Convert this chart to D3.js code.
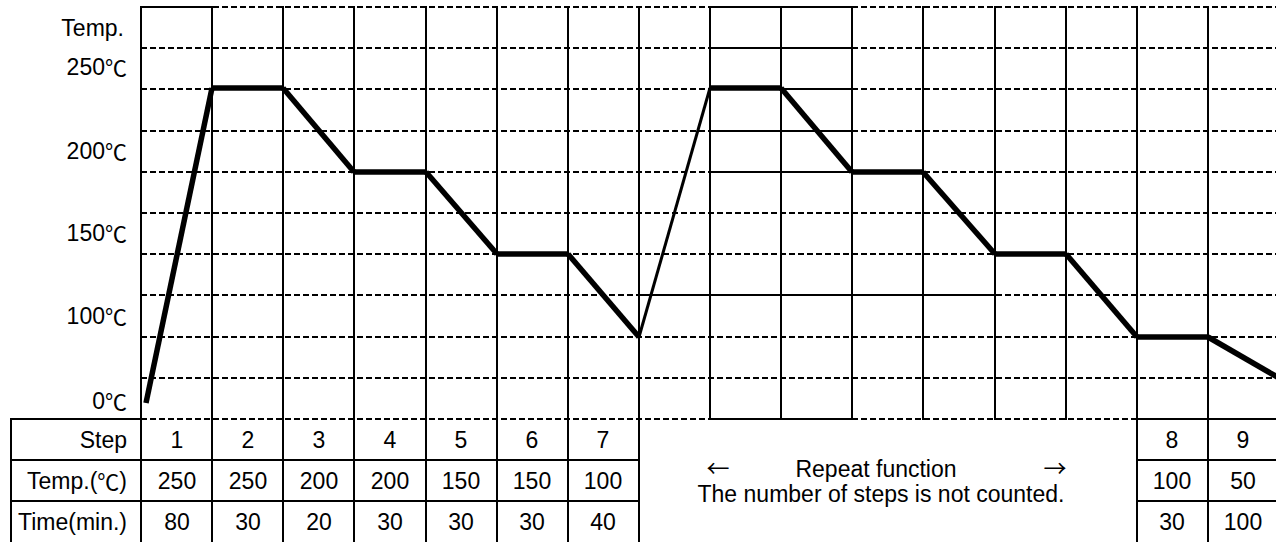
<!DOCTYPE html>
<meta charset="utf-8">
<style>
body { margin: 0; background: #fff; }
text { font-family: "Liberation Sans", Arial, sans-serif; font-size: 23px; fill: #000; }
.grid { stroke: #000; stroke-width: 2; fill: none; shape-rendering: crispEdges; }
.dash { stroke-dasharray: 6,3; }
.profile { stroke: #000; fill: none; }
.cjk { font-family: "Noto Sans CJK JP", sans-serif; }
tspan.cjk { font-size: 22px; baseline-shift: 1.5px; }
</style>
<body>
<svg id="chart" width="1276" height="542"></svg>
<script src="https://d3js.org/d3.v7.min.js"></script>
<script>
var stepNames = ["1", "2", "3", "4", "5", "6", "7"];
var stepTemps = [250, 250, 200, 200, 150, 150, 100];
var stepTimes = [80, 30, 20, 30, 30, 30, 40];
var tailNames = ["8", "9"];
var tailTemps = [100, 50];
var tailTimes = [30, 100];
var yTicks = [250, 200, 150, 100, 0];
var yTickLabels = ["250℃", "200℃", "150℃", "100℃", "0℃"];
var rowLabels = ["Step", "Temp.(℃)", "Time(min.)"];
var repeatLines = ["Repeat function", "The number of steps is not counted."];

// profile: start at 0℃, steps 1-7, the repeated 1-7, then steps 8 and 9
var profile = [0].concat(stepTemps, stepTemps, tailTemps);

var svg = d3.select("#chart");
var nCols = 16, nRows = 10, rowH = 41.2;
var x = d3.scaleLinear().domain([0, nCols]).rangeRound([141, 1279]);
var row = d3.scaleLinear().domain([0, 1]).rangeRound([7, 7 + rowH]);
// the temperature axis is not linear: 50℃ per two rows above 100, compressed below
var y = d3.scaleLinear()
    .domain([0, 50, 100, 150, 200, 250])
    .range([row(9.6), row(9), row(8), row(6), row(4), row(2) - 1]);

// put the ℃ sign in a CJK font, like the original
function label(sel, s) {
  s.split(/(℃)/).filter(p => p).forEach(function(p) {
    sel.append("tspan").attr("class", p === "℃" ? "cjk" : null).text(p);
  });
}

// horizontal grid: dashed everywhere, solid stretches drawn on top
var solid = {0: [[0, 1], [8, 10]], 1: [[8, 10]], 2: [[8, 10]], 3: [[8, 10]], 4: [[8, 10]],
             7: [[7, 12]], 10: [[8, 10], [14, 16]]};
d3.range(nRows + 1).forEach(function(k) {
  svg.append("line").attr("class", "grid dash")
      .attr("x1", x(0)).attr("x2", x(nCols))
      .attr("y1", row(k)).attr("y2", row(k));
  (solid[k] || []).forEach(function(s) {
    svg.append("line").attr("class", "grid")
        .attr("x1", x(s[0])).attr("x2", x(s[1]))
        .attr("y1", row(k)).attr("y2", row(k));
  });
});

// vertical grid
svg.selectAll(".vline").data(d3.range(nCols + 1))
  .enter().append("line").attr("class", "grid")
    .attr("x1", d => x(d)).attr("x2", d => x(d))
    .attr("y1", row(0) - 1).attr("y2", row(nRows) + 1);

// table
var tableLeft = 11;
var tableCols = d3.range(0, stepNames.length + 1).concat([14, 15, 16]);
svg.selectAll(".tv").data(tableCols)
  .enter().append("line").attr("class", "grid")
    .attr("x1", d => x(d)).attr("x2", d => x(d))
    .attr("y1", row(nRows)).attr("y2", row(nRows + 3));
svg.append("line").attr("class", "grid")
    .attr("x1", tableLeft).attr("x2", tableLeft)
    .attr("y1", row(nRows) - 1).attr("y2", row(nRows + 3));
svg.append("line").attr("class", "grid")
    .attr("x1", tableLeft).attr("x2", x(0))
    .attr("y1", row(nRows)).attr("y2", row(nRows));
[1, 2, 3].forEach(function(r) {
  svg.append("line").attr("class", "grid")
      .attr("x1", tableLeft).attr("x2", x(7))
      .attr("y1", row(nRows + r)).attr("y2", row(nRows + r));
  svg.append("line").attr("class", "grid")
      .attr("x1", x(14)).attr("x2", x(16))
      .attr("y1", row(nRows + r)).attr("y2", row(nRows + r));
});

// temperature profile
var segs = d3.pairs(profile.map((t, i) => ({slot: i === 0 ? 0.07 : i, temp: t})));
svg.selectAll(".seg").data(segs)
  .enter().append("line").attr("class", "profile")
    .attr("x1", d => x(d[0].slot)).attr("y1", d => y(d[0].temp))
    .attr("x2", d => x(d[1].slot)).attr("y2", d => y(d[1].temp))
    .attr("stroke-width", d => (d[0].slot === 7) ? 3 : 5.5)
    .attr("stroke-linecap", "butt");

// y labels
svg.append("text").attr("x", 124).attr("y", row(0.5))
    .attr("text-anchor", "end").attr("dominant-baseline", "central").text("Temp.");
svg.selectAll(".ylab").data(yTicks)
  .enter().append("text")
    .attr("x", 127)
    .attr("y", d => d > 0 ? y(d) - rowH / 2 : y(d) - 2)
    .attr("text-anchor", "end").attr("dominant-baseline", "central")
    .each(function(d, i) { label(d3.select(this), yTickLabels[i]); });

// table texts
rowLabels.forEach(function(lab, r) {
  var t = svg.append("text").attr("x", 127).attr("y", row(nRows + r + 0.5))
      .attr("text-anchor", "end").attr("dominant-baseline", "central");
  label(t, lab);
});
var cells = [];
stepNames.forEach(function(n, i) {
  [n, stepTemps[i], stepTimes[i]].forEach((v, r) => cells.push({c: i, r: r, v: v}));
});
tailNames.forEach(function(n, i) {
  [n, tailTemps[i], tailTimes[i]].forEach((v, r) => cells.push({c: 14 + i, r: r, v: v}));
});
svg.selectAll(".cell").data(cells)
  .enter().append("text")
    .attr("x", d => x(d.c + 0.5))
    .attr("y", d => row(nRows + d.r + 0.5))
    .attr("text-anchor", "middle").attr("dominant-baseline", "central")
    .text(d => d.v);

// repeat note
var mid = (x(7) + x(14)) / 2 - 10;
svg.append("text").attr("x", mid - 2).attr("y", 469)
    .attr("text-anchor", "middle").attr("dominant-baseline", "central").text(repeatLines[0]);
svg.append("text").attr("class", "cjk").attr("x", mid - 160).attr("y", 467)
    .attr("text-anchor", "middle").attr("dominant-baseline", "central").text("←");
svg.append("text").attr("class", "cjk").attr("x", mid + 177).attr("y", 467)
    .attr("text-anchor", "middle").attr("dominant-baseline", "central").text("→");
svg.append("text").attr("x", mid + 3).attr("y", 494)
    .attr("text-anchor", "middle").attr("dominant-baseline", "central").text(repeatLines[1]);
</script>
</body>
